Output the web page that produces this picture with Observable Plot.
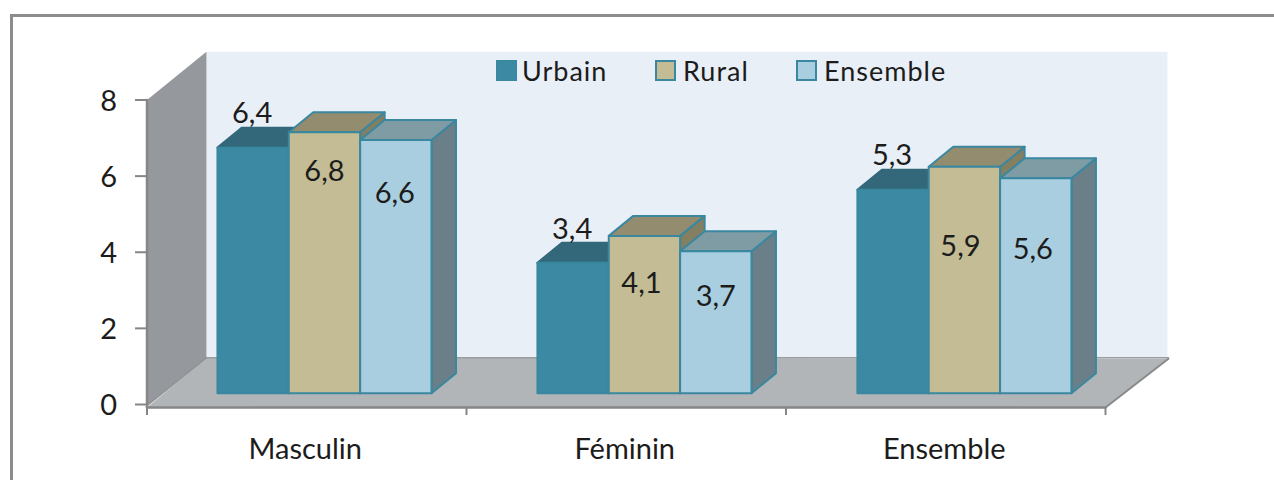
<!DOCTYPE html>
<html><head><meta charset="utf-8">
<script src="https://cdn.jsdelivr.net/npm/d3@7"></script>
<script src="https://cdn.jsdelivr.net/npm/@observablehq/plot@0.6"></script>
<style>
html,body{margin:0;padding:0;background:#fff}
#wrap{position:relative;width:1274px;height:480px;overflow:hidden}
#wrap svg{background:transparent!important;display:block}
#frame{position:absolute;left:10px;top:14px;right:-10px;bottom:-10px;border-top:3px solid #8c8c8c;border-left:3px solid #8c8c8c}
#legend{position:absolute;left:0;top:0;font:27px Lato,sans-serif;color:#1c1c1c}
#legend i{position:absolute;top:60px;height:17px;width:17px;border:2px solid #3a87a0;box-sizing:content-box}
#legend span{position:absolute;top:54px;line-height:34px;letter-spacing:1px;white-space:nowrap}
</style></head><body>
<div id="wrap"><div id="frame"></div><div id="chart"></div><div id="legend"></div></div>
<script>
const categories = ["Masculin", "Féminin", "Ensemble"];
const series = ["Urbain", "Rural", "Ensemble"];
const urbain = [6.4, 3.4, 5.3];
const rural = [6.8, 4.1, 5.9];
const ensemble = [6.6, 3.7, 5.6];
const yTicks = [0, 2, 4, 6, 8];

// Styling per series
const front = ["#3c89a3", "#c4bc94", "#a9cedf"];
const top3d = ["#33687a", "#948c6e", "#7f9ca5"];
const side = ["#33687a", "#857f62", "#6b7f88"];
const edge = ["#3a87a0", "#3a87a0", "#3a87a0"];

// Projection of the 3D box, in scale units
const pxX = 319.5, pxY = 38.06;
const groupPitch = 1.0015;
const barStart = 0.2205, barW = 0.2233, barBase = 0.297, barK = 1.008;
const dX = 24.5 / pxX, dY = 20 / pxY;
const wallX = 0.186, wallY = 1.25, wallEndX = 3.194;
const floorFront = -0.08;

// Hand placement of the value labels, as offset in pixels from bar centre / top
const labelDx = [[-1, 0, -1], [-1, -3, 0], [-1, -4, -3]];
const labelDy = [[-34, 39, 54], [-33, 48, 45], [-34, 80, 71]];

const poly = (pts, fill, stroke, strokeWidth = 2) => Plot.line(pts, {
  x: d => d[0], y: d => d[1], curve: "linear-closed",
  fill, stroke: stroke || fill, strokeWidth, strokeLinejoin: "round"
});
const seg = (pts, stroke = "#8a8a8a", strokeWidth = 2.5) => Plot.line(pts, {
  x: d => d[0], y: d => d[1], stroke, strokeWidth
});

const values = [urbain, rural, ensemble];
const marks = [
  poly([[wallX, wallY - .02], [wallEndX, wallY - .02], [wallEndX, 8 + 1.265], [wallX, 8 + 1.265]], "#e8eff6", "none"),
  poly([[0, -0.03], [0, 8], [wallX, 8 + 1.265], [wallX, wallY - .02]], "#95989c", "none"),
  poly([[0, floorFront], [3, floorFront], [wallEndX + .003, wallY - .05], [wallX, wallY - .02]], "#b1b5b8", "none"),
  seg([[wallX, wallY - .02], [wallEndX + .003, wallY - .02]], "#9a9da0", 1.5),
  seg([[0, -0.03], [wallX, wallY - .02]], "#8f9396", 1.5),
  seg([[3, floorFront], [wallEndX + .003, wallY - .05]], "#8a8a8a", 2)
];

categories.forEach((c, i) => {
  series.forEach((s, j) => {
    const v = values[j][i];
    const x0 = i * groupPitch + barStart + j * barW, x1 = x0 + barW;
    const t = barBase + barK * v;
    marks.push(poly([[x1, barBase], [x1 + dX, barBase + dY], [x1 + dX, t + dY], [x1, t]], side[j], edge[j]));
    marks.push(poly([[x0, t], [x1, t], [x1 + dX, t + dY], [x0 + dX, t + dY]], top3d[j], j === 0 ? top3d[j] : edge[j]));
    marks.push(poly([[x0, barBase], [x1, barBase], [x1, t], [x0, t]], front[j], edge[j]));
  });
});

const labels = [];
categories.forEach((c, i) => series.forEach((s, j) => {
  const v = values[j][i];
  labels.push({
    text: String(v).replace(".", ","),
    x: i * groupPitch + barStart + (j + .5) * barW + labelDx[i][j] / pxX,
    y: barBase + barK * v - labelDy[i][j] / pxY
  });
}));

const axisColor = "#868686";
marks.push(
  seg([[0, floorFront], [3, floorFront]], axisColor),
  seg([[0, floorFront], [0, 8]], axisColor),
  Plot.ruleX([0, 1, 2, 3], {y1: floorFront, y2: -0.29, stroke: axisColor, strokeWidth: 2}),
  Plot.ruleY(yTicks, {x1: -0.036, x2: 0, stroke: axisColor, strokeWidth: 2}),
  Plot.axisY({ticks: yTicks, tickSize: 0, tickPadding: 30, dy: 1.5, fontSize: 29, fill: "#1c1c1c", label: null, tickFormat: d => d}),
  Plot.axisX({ticks: [0.5, 1.5, 2.5], tickSize: 0, tickPadding: 34, dx: -1.5, fontSize: 29, fill: "#1c1c1c", label: null,
    tickFormat: d => categories[Math.floor(d)]}),
  Plot.text(labels, {x: "x", y: "y", text: "text", fontSize: 29, fill: "#1c1c1c"})
);

const chart = Plot.plot({
  width: 1274, height: 480,
  marginLeft: 146.5, marginRight: 169, marginTop: 99.5, marginBottom: 76,
  style: {fontFamily: "Lato, sans-serif", background: "transparent"},
  x: {domain: [0, 3], axis: null},
  y: {domain: [0, 8], axis: null},
  marks
});
document.getElementById("chart").appendChild(chart);

const lg = document.getElementById("legend");
const swatchX = [496, 655, 796], textX = [522, 683, 824];
series.forEach((s, j) => {
  const sw = document.createElement("i");
  sw.style.left = swatchX[j] + "px";
  sw.style.background = front[j];
  lg.appendChild(sw);
  const t = document.createElement("span");
  t.textContent = s;
  t.style.left = textX[j] + "px";
  lg.appendChild(t);
});
</script>
</body></html>
